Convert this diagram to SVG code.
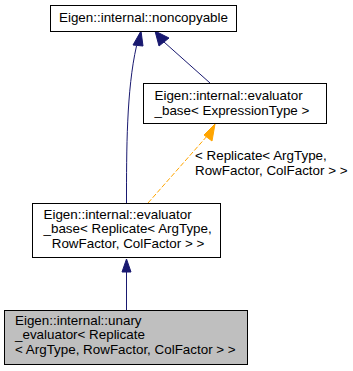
<svg xmlns="http://www.w3.org/2000/svg" width="353" height="371" viewBox="0 0 353 371">
  <style>
    .box { fill: #ffffff; stroke: #000000; stroke-width: 1; }
    .box.hl { fill: #bfbfbf; }
    text { font-family: "Liberation Sans", Arial, Helvetica, sans-serif; font-size: 13.4px; fill: #000000; }
    .inh { fill: none; stroke: #191970; stroke-width: 1; }
    .tpl { fill: none; stroke: #ffa500; stroke-width: 1; stroke-dasharray: 5,2; }
  </style>
  <rect width="353" height="371" fill="#ffffff"/>

  <g id="connectors">
    <!-- evaluator_base<Replicate> -> noncopyable -->
    <path class="inh" d="M126.5,203 C126.5,150 126.5,90 136.5,46"/>
    <polygon points="141,31 133,45 143,46" fill="#191970" stroke="#191970"/>
    <!-- evaluator_base<ExpressionType> -> noncopyable -->
    <path class="inh" d="M210,83 L164,42"/>
    <polygon points="155,31 159,46 169,38" fill="#191970" stroke="#191970"/>
    <!-- template instance edge -->
    <path class="tpl" d="M148,203 L208,135"/>
    <polygon points="215,124 204,135 212,141" fill="#ffa500" stroke="#ffa500"/>
    <text x="195" y="160">&lt; Replicate&lt; ArgType,</text>
    <text x="195" y="174.5">RowFactor, ColFactor &gt; &gt;</text>
    <!-- unary_evaluator -> evaluator_base<Replicate> -->
    <path class="inh" d="M126.5,310 L126.5,272"/>
    <polygon points="126.5,259 122,272 131,272" fill="#191970" stroke="#191970"/>
  </g>

  <g id="node1">
    <rect class="box" x="50.5" y="5.5" width="186" height="26"/>
    <text x="143.5" y="22" text-anchor="middle">Eigen::internal::noncopyable</text>
  </g>

  <g id="node2">
    <rect class="box" x="143.5" y="83.5" width="183" height="40"/>
    <text x="154.5" y="100">Eigen::internal::evaluator</text>
    <text x="154.5" y="114.5">_base&lt; ExpressionType &gt;</text>
  </g>

  <g id="node3">
    <rect class="box" x="32.5" y="203.5" width="188" height="54"/>
    <text x="43.5" y="218.5">Eigen::internal::evaluator</text>
    <text x="43.5" y="233">_base&lt; Replicate&lt; ArgType,</text>
    <text x="128" y="247.5" text-anchor="middle">RowFactor, ColFactor &gt; &gt;</text>
  </g>

  <g id="node4">
    <rect class="box hl" x="4.5" y="310.5" width="243" height="54"/>
    <text x="15" y="324.5">Eigen::internal::unary</text>
    <text x="15" y="339">_evaluator&lt; Replicate</text>
    <text x="15" y="353.5">&lt; ArgType, RowFactor, ColFactor &gt; &gt;</text>
  </g>
</svg>
